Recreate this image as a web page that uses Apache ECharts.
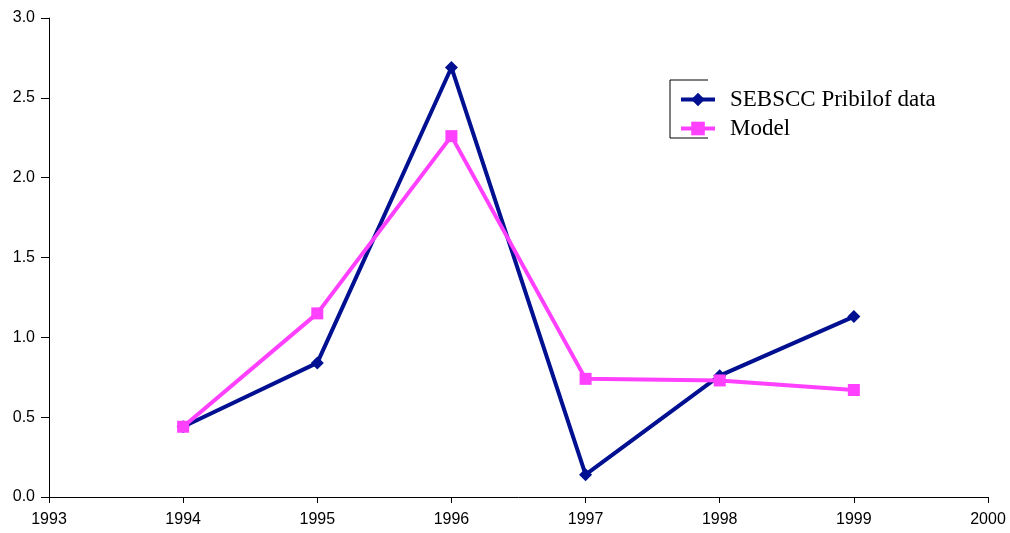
<!DOCTYPE html>
<html>
<head>
<meta charset="utf-8">
<script src="https://cdn.jsdelivr.net/npm/echarts@6/dist/echarts.min.js"></script>
<style>html,body{margin:0;padding:0;background:#fff}#c{width:1010px;height:533px}</style>
</head>
<body>
<div id="c"></div>
<script>
const years = [1994, 1995, 1996, 1997, 1998, 1999];
const sebsccData = [0.44, 0.84, 2.69, 0.14, 0.76, 1.13];
const modelData = [0.44, 1.15, 2.26, 0.74, 0.73, 0.67];
const seriesNames = ['SEBSCC Pribilof data', 'Model'];
const xMin = 1993, xMax = 2000;
const yMin = 0, yMax = 3, yStep = 0.5;

const pairs = arr => years.map((y, i) => [y, arr[i]]);
const chart = echarts.init(document.getElementById('c'));
const axisFont = {fontFamily: 'Liberation Sans, Arial, sans-serif', fontSize: 16, color: '#000'};
chart.setOption({
  animation: false,
  backgroundColor: '#fff',
  grid: {left: 49, right: 22, top: 18, bottom: 36},
  xAxis: {
    type: 'value', min: xMin, max: xMax, interval: 1,
    axisLine: {show: true, lineStyle: {color: '#000', width: 1}},
    axisTick: {show: true, length: 6, lineStyle: {color: '#000'}},
    axisLabel: Object.assign({margin: 15, formatter: v => String(v)}, axisFont),
    splitLine: {show: false}
  },
  yAxis: {
    type: 'value', min: yMin, max: yMax, interval: yStep,
    axisLine: {show: true, lineStyle: {color: '#000', width: 1}},
    axisTick: {show: true, length: 8, lineStyle: {color: '#000'}},
    axisLabel: Object.assign({margin: 14, formatter: v => v.toFixed(1)}, axisFont),
    splitLine: {show: false}
  },
  legend: {
    orient: 'vertical', left: 674, top: 80,
    itemWidth: 34, itemHeight: 17, itemGap: 0,
    lineStyle: {width: 4},
    textStyle: {fontFamily: 'Liberation Serif, Times New Roman, serif', fontSize: 23, lineHeight: 23, color: '#000', padding: [0, 0, 6, 10]},
    data: seriesNames
  },
  graphic: [{
    type: 'polyline', silent: true,
    shape: {points: [[708, 80], [670, 80], [670, 138], [708, 138]]},
    style: {stroke: '#000', lineWidth: 1, fill: null}
  }],
  series: [
    {
      name: seriesNames[0], type: 'line', data: pairs(sebsccData),
      symbol: 'diamond', symbolSize: 13, showAllSymbol: true,
      lineStyle: {color: '#001090', width: 4},
      itemStyle: {color: '#001090'}, z: 2
    },
    {
      name: seriesNames[1], type: 'line', data: pairs(modelData),
      symbol: 'rect', symbolSize: 12,
      lineStyle: {color: '#ff40ff', width: 4},
      itemStyle: {color: '#ff40ff'}, z: 3
    }
  ]
});
</script>
</body>
</html>
